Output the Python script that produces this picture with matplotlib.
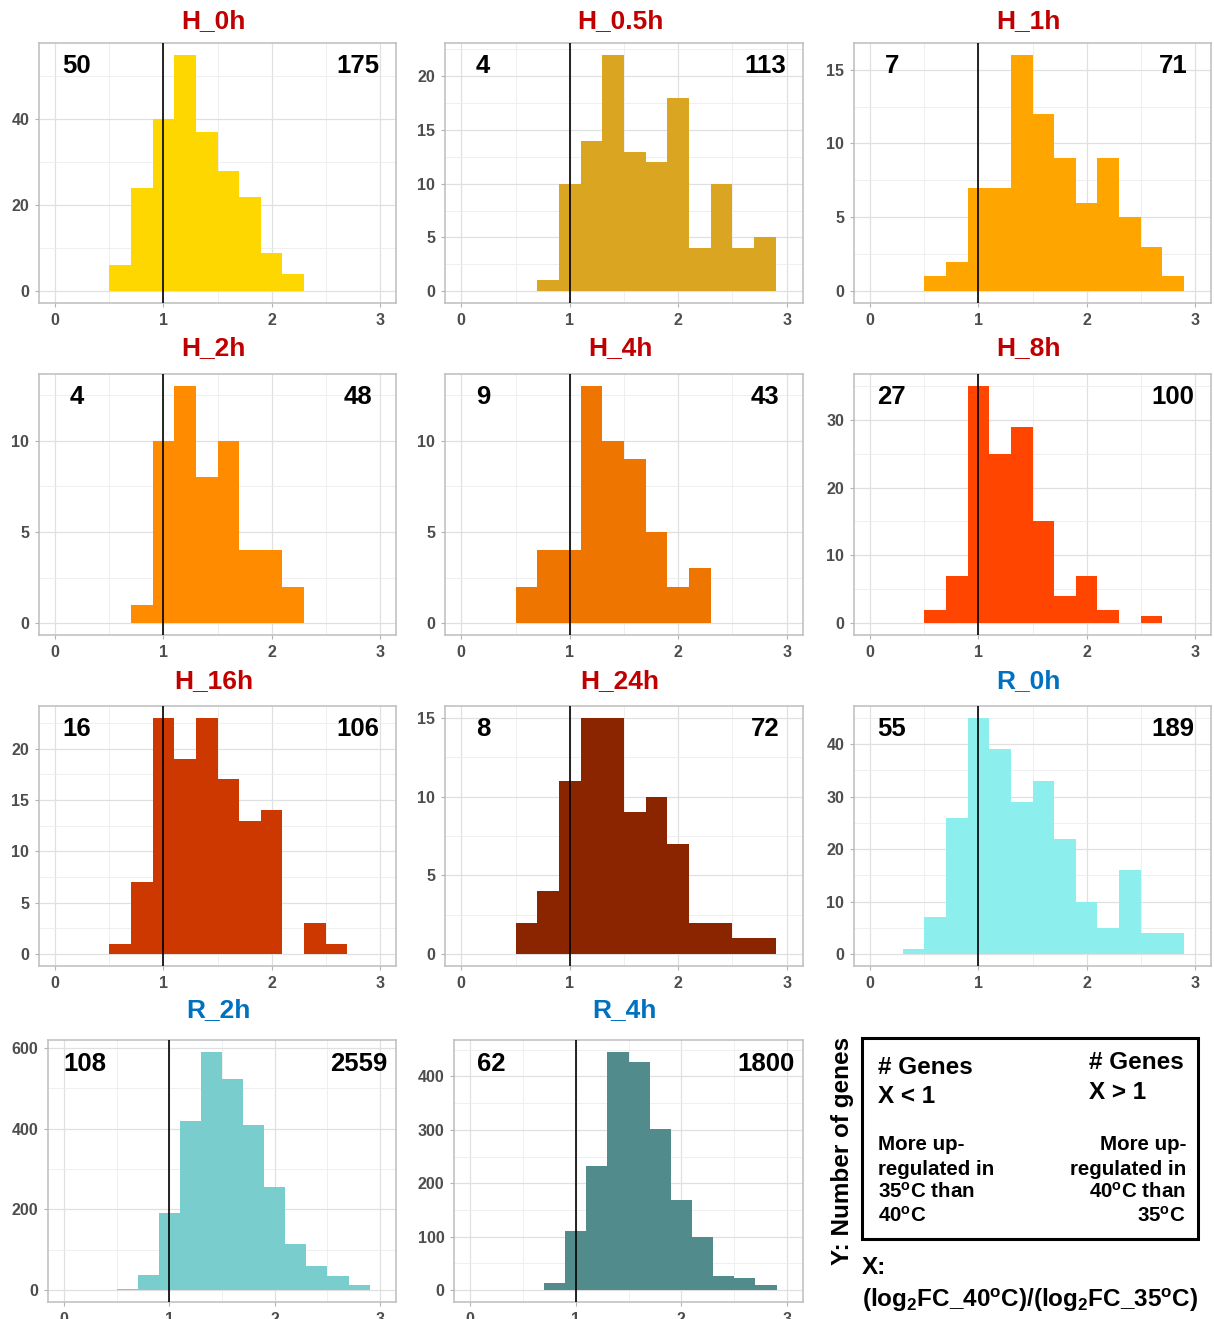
import matplotlib
matplotlib.use('Agg')
import matplotlib.pyplot as plt
from matplotlib.ticker import MultipleLocator
from matplotlib.patches import Rectangle

plt.rcParams['font.family'] = ['Liberation Sans', 'DejaVu Sans']
plt.rcParams['font.weight'] = 'bold'
plt.rcParams['mathtext.fontset'] = 'custom'
plt.rcParams['mathtext.rm'] = 'Liberation Sans:bold'
plt.rcParams['mathtext.bf'] = 'Liberation Sans:bold'
plt.rcParams['mathtext.it'] = 'Liberation Sans:bold'
plt.rcParams['mathtext.sf'] = 'Liberation Sans:bold'

# ---------------- data ----------------
bin_lefts = [0.1, 0.3, 0.5, 0.7, 0.9, 1.1, 1.3, 1.5, 1.7, 1.9, 2.1, 2.3, 2.5, 2.7]
bin_width = 0.2

panel_names = ["H_0h", "H_0.5h", "H_1h", "H_2h", "H_4h", "H_8h",
               "H_16h", "H_24h", "R_0h", "R_2h", "R_4h"]

H_0h   = [0, 0, 6, 24, 40, 55, 37, 28, 22, 9, 4, 0, 0, 0]
H_05h  = [0, 0, 0, 1, 10, 14, 22, 13, 12, 18, 4, 10, 4, 5]
H_1h   = [0, 0, 1, 2, 7, 7, 16, 12, 9, 6, 9, 5, 3, 1]
H_2h   = [0, 0, 0, 1, 10, 13, 8, 10, 4, 4, 2, 0, 0, 0]
H_4h   = [0, 0, 2, 4, 4, 13, 10, 9, 5, 2, 3, 0, 0, 0]
H_8h   = [0, 0, 2, 7, 35, 25, 29, 15, 4, 7, 2, 0, 1, 0]
H_16h  = [0, 0, 1, 7, 23, 19, 23, 17, 13, 14, 0, 3, 1, 0]
H_24h  = [0, 0, 2, 4, 11, 15, 15, 9, 10, 7, 2, 2, 1, 1]
R_0h   = [0, 1, 7, 26, 45, 39, 29, 33, 22, 10, 5, 16, 4, 4]
R_2h   = [0, 0, 2, 37, 192, 420, 590, 523, 410, 255, 113, 60, 35, 12]
R_4h   = [0, 0, 1, 14, 110, 233, 446, 427, 301, 168, 100, 26, 23, 9]
panel_counts = [H_0h, H_05h, H_1h, H_2h, H_4h, H_8h, H_16h, H_24h, R_0h, R_2h, R_4h]

left_totals  = [50, 4, 7, 4, 9, 27, 16, 8, 55, 108, 62]
right_totals = [175, 113, 71, 48, 43, 100, 106, 72, 189, 2559, 1800]

panel_colors = ["#FFD700", "#DAA520", "#FFA500", "#FF8C00", "#EE7600", "#FF4500",
                "#CD3700", "#8B2500", "#8DEEEE", "#79CDCD", "#528B8B"]
y_steps = [20, 5, 5, 5, 5, 10, 5, 5, 10, 200, 100]
x_ticks = [0, 1, 2, 3]

# ---------------- layout (pixels) ----------------
W, H = 1214, 1319
fig = plt.figure(figsize=(W / 100, H / 100), dpi=100)

cols = [(39, 396), (445, 803), (854, 1211)]
rows = [(43, 303), (374, 635), (706, 966)]
title_base = [28, 355, 688, 1017]
boxes = []
for r in range(3):
    for c in range(3):
        boxes.append((cols[c][0], rows[r][0], cols[c][1], rows[r][1], r))
boxes.append((48, 1040, 396, 1302, 3))
boxes.append((454, 1040, 803, 1302, 3))


def fx(x):
    return x / W


def fy(y):
    return 1 - y / H


for i, name in enumerate(panel_names):
    x0, y0, x1, y1, r = boxes[i]
    ax = fig.add_axes([fx(x0), fy(y1), (x1 - x0) / W, (y1 - y0) / H])
    counts = panel_counts[i]
    ymax = max(counts)
    ax.set_xlim(-0.15, 3.15)
    ax.set_ylim(-0.05 * ymax, 1.05 * ymax)
    ax.set_axisbelow(True)
    ax.bar(bin_lefts, counts, width=bin_width, align='edge',
           color=panel_colors[i], linewidth=0, zorder=2)
    ax.axvline(1, color='black', linewidth=1.2, zorder=3)

    ax.set_xticks(x_ticks)
    ax.xaxis.set_minor_locator(MultipleLocator(0.5))
    ax.yaxis.set_major_locator(MultipleLocator(y_steps[i]))
    ax.yaxis.set_minor_locator(MultipleLocator(y_steps[i] / 2))
    ax.grid(which='major', color='#E0E0E0', linewidth=0.9, zorder=0)
    ax.grid(which='minor', color='#EDEDED', linewidth=0.6, zorder=0)
    ax.tick_params(which='major', length=3, width=0.8, color='#B3B3B3',
                   labelsize=11.5, labelcolor='#4D4D4D', pad=4)
    ax.tick_params(which='minor', length=0)
    for lab in ax.get_xticklabels() + ax.get_yticklabels():
        lab.set_fontweight('bold')
    for sp in ax.spines.values():
        sp.set_color('#BDBDBD')
        sp.set_linewidth(1.1)

    ax.text((0.2 + 0.15) / 3.3, 0.91, str(left_totals[i]), transform=ax.transAxes,
            fontsize=18.5, fontweight='bold', ha='center', va='center', zorder=5)
    ax.text((2.8 + 0.15) / 3.3, 0.91, str(right_totals[i]), transform=ax.transAxes,
            fontsize=18.5, fontweight='bold', ha='center', va='center', zorder=5)

    tcol = '#C00000' if name.startswith('H') else '#0070C0'
    fig.text(fx((x0 + x1) / 2 - 4), fy(title_base[r]), name, color=tcol,
             fontsize=19, fontweight='bold', ha='center', va='baseline')

# ---------------- legend / annotation box ----------------
rect = Rectangle((fx(862), fy(1239)), (1198 - 862) / W, (1239 - 1038) / H,
                 transform=fig.transFigure, fill=False, edgecolor='black',
                 linewidth=2.2)
fig.patches.append(rect)

fs_big = 17.5
fs_small = 14.8
fig.text(fx(878), fy(1074), "# Genes", fontsize=fs_big, fontweight='bold', ha='left', va='baseline')
fig.text(fx(878), fy(1103), "X < 1", fontsize=fs_big, fontweight='bold', ha='left', va='baseline')
fig.text(fx(1089), fy(1069), "# Genes", fontsize=fs_big, fontweight='bold', ha='left', va='baseline')
fig.text(fx(1089), fy(1099), "X > 1", fontsize=fs_big, fontweight='bold', ha='left', va='baseline')

left_lines = ["More up-", "regulated in", "35$^{o}$C than", "40$^{o}$C"]
right_lines = ["More up-", "regulated in", "40$^{o}$C than", "35$^{o}$C"]
line_y = [1150, 1175, 1198, 1222]
for t, yy in zip(left_lines, line_y):
    fig.text(fx(878), fy(yy), t, fontsize=fs_small, fontweight='bold', ha='left', va='baseline')
for t, yy in zip(right_lines, line_y):
    fig.text(fx(1186), fy(yy), t, fontsize=fs_small, fontweight='bold', ha='right', va='baseline')

fig.text(fx(842), fy(1151), "Y: Number of genes", fontsize=17.5, fontweight='bold',
         rotation=90, ha='center', va='center')
fig.text(fx(862), fy(1274), "X:", fontsize=17.5, fontweight='bold', ha='left', va='baseline')
fig.text(fx(862), fy(1307), "(log$_{2}$FC_40$^{o}$C)/(log$_{2}$FC_35$^{o}$C)",
         fontsize=17.5, fontweight='bold', ha='left', va='baseline')

fig.savefig('out.png', dpi=100)
